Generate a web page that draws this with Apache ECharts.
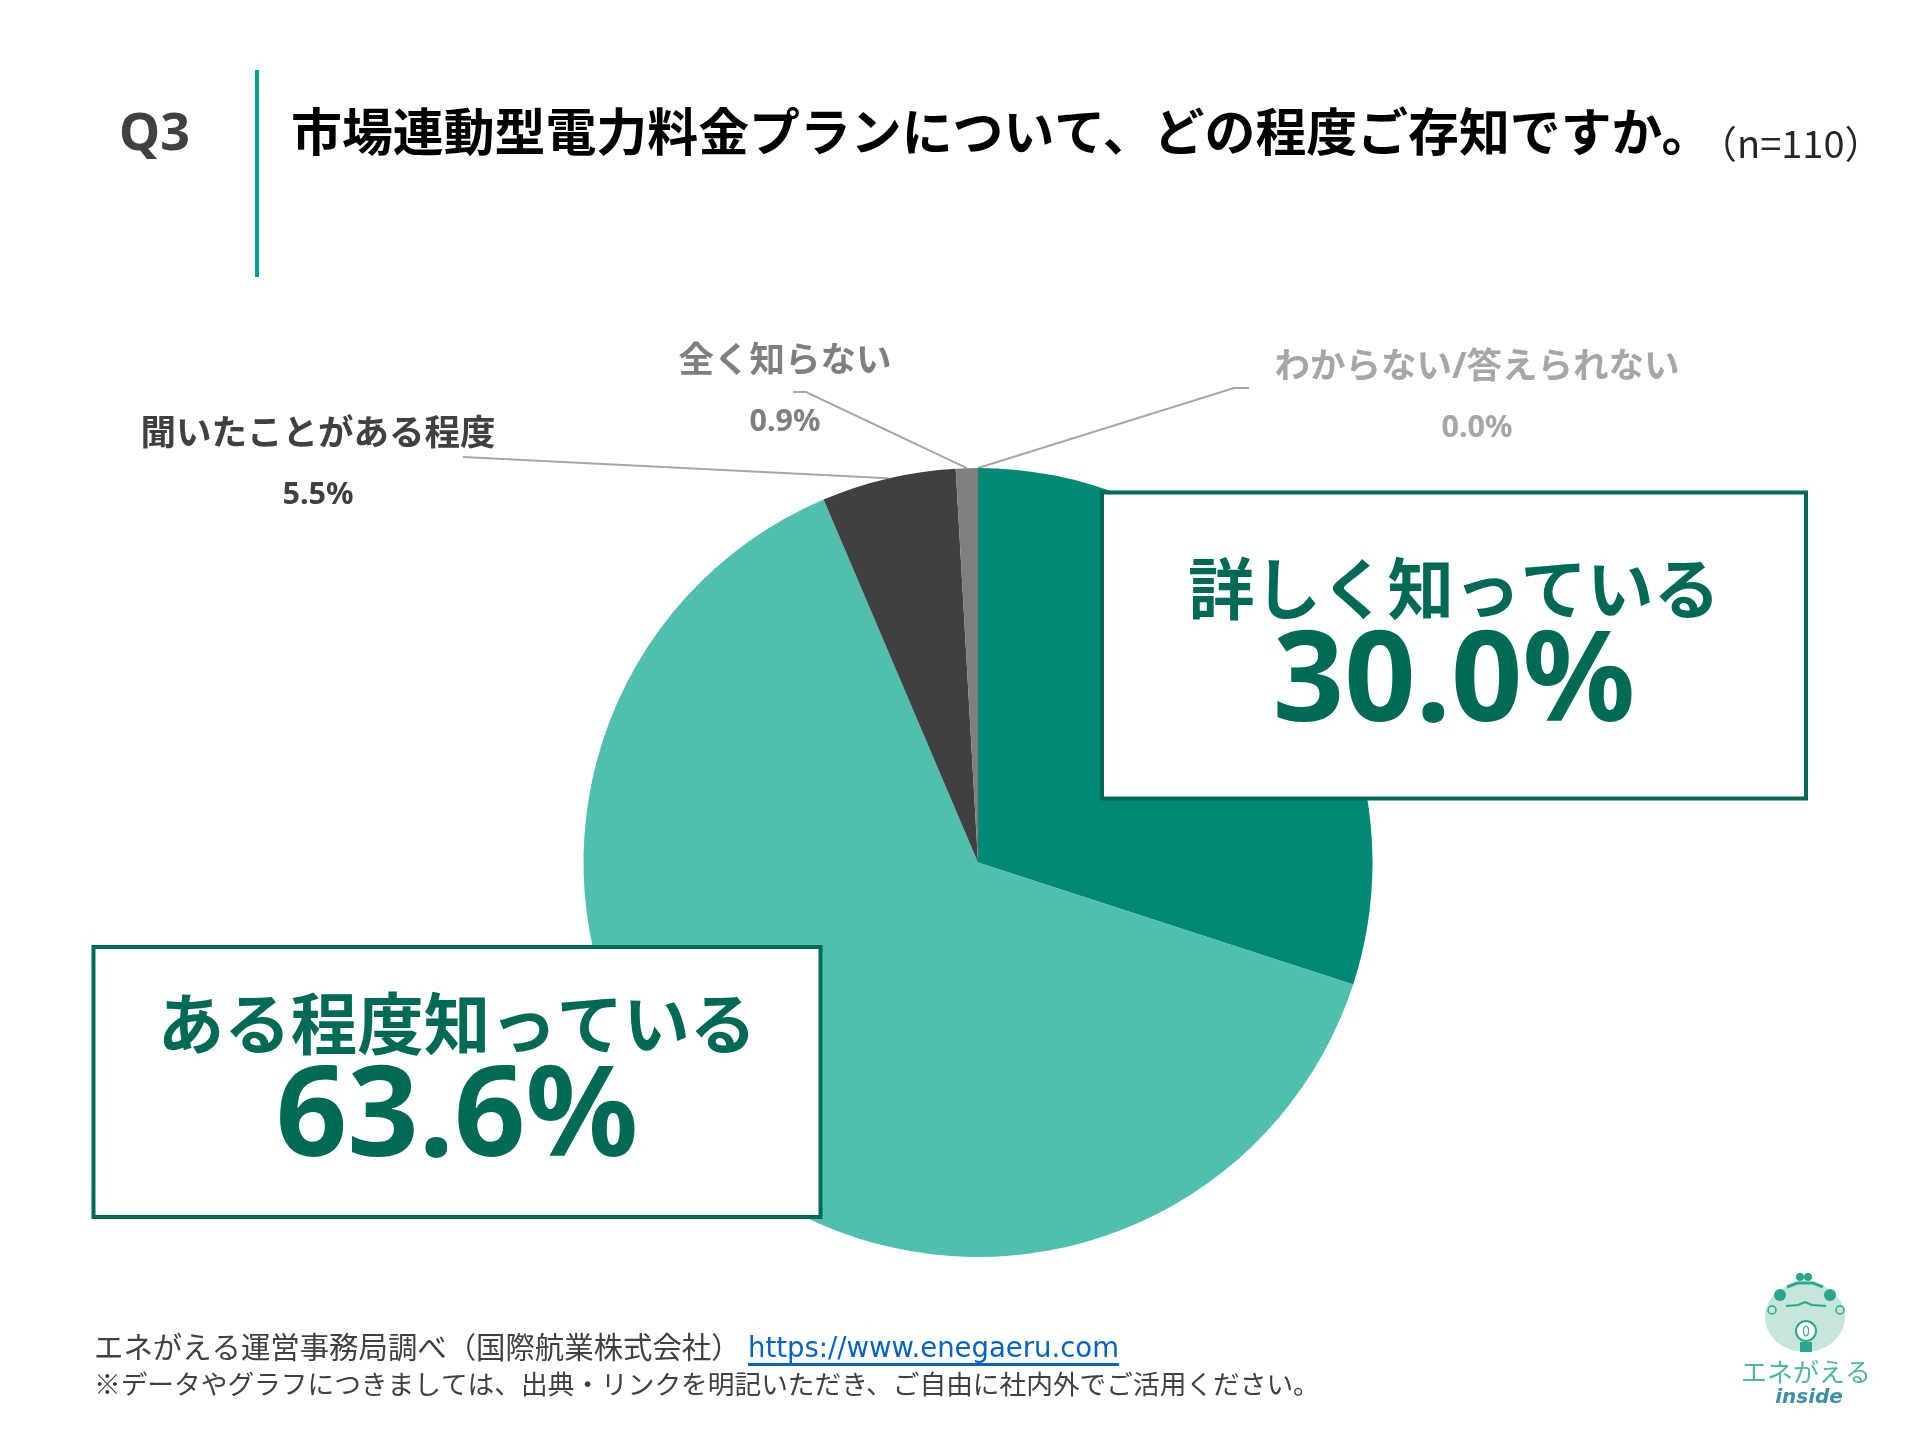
<!DOCTYPE html>
<html>
<head>
<meta charset="utf-8">
<title>Q3</title>
<script src="https://cdn.jsdelivr.net/npm/echarts@6/dist/echarts.min.js"></script>
<style>
html,body{margin:0;padding:0;background:#fff}
#chart{width:1920px;height:1440px}
</style>
</head>
<body>
<div id="chart"></div>
<script>
var categories = ['詳しく知っている', 'ある程度知っている', '聞いたことがある程度', '全く知らない', 'わからない/答えられない'];
var shares = [30.0, 63.6, 5.5, 0.9, 0.0];
var sliceColors = ['#008a75', '#50bfae', '#404040', '#7f7f7f', '#a6a6a6'];
var questionNo = 'Q3';
var questionText = '市場連動型電力料金プランについて、どの程度ご存知ですか。';
var sampleText = '（n=110）';
var sourceText = 'エネがえる運営事務局調べ（国際航業株式会社）';
var sourceUrl = 'https://www.enegaeru.com';
var noteText = '※データやグラフにつきましては、出典・リンクを明記いただき、ご自由に社内外でご活用ください。';

var font = '"Noto Sans", "Noto Sans CJK JP", sans-serif';
var jpFont = '"Noto Sans CJK JP", sans-serif';
var dark = '#006a57';
var logoGreen = '#2aa58e';
var chart = echarts.init(document.getElementById('chart'));

// where each label sits, same order as categories (the two big boxes by their top edge)
var spots = [
    {x: 1454, y: 494.5, top: true},
    {x: 457, y: 949, top: true},
    {x: 318, y: 465, line: [[463, 457]]},
    {x: 785, y: 392, line: [[806, 392], [793, 392]]},
    {x: 1477, y: 398, line: [[1234, 388], [1249, 388]]}
];

function smallLabel(color) {
    return {
        formatter: function (p) {
            return '{n|' + p.name + '}\n{p|' + p.value.toFixed(1) + '%}';
        },
        rich: {
            n: {fontFamily: font, fontSize: 35.5, fontWeight: 'bold', color: color, lineHeight: 61, align: 'center'},
            p: {fontFamily: font, fontSize: 30.5, fontWeight: 'bold', color: color, lineHeight: 61, align: 'center'}
        }
    };
}

function boxLabel(w, h, topGap) {
    return {
        width: w,
        height: h,
        padding: [topGap, 0, 0, 0],
        backgroundColor: '#fff',
        borderColor: dark,
        borderWidth: 4,
        formatter: function (p) {
            return '{n|' + p.name + '}\n{p|' + p.value.toFixed(1) + '%}';
        },
        rich: {
            n: {fontFamily: font, fontSize: 66.5, fontWeight: 'bold', color: dark, lineHeight: 90, align: 'center'},
            p: {fontFamily: font, fontSize: 125, fontWeight: 'bold', color: dark, lineHeight: 90, align: 'center'}
        }
    };
}

var labels = [
    boxLabel(700, 246.5, 55.5),
    boxLabel(723, 229.5, 36.5),
    smallLabel('#404040'),
    smallLabel('#7f7f7f'),
    smallLabel('#a6a6a6')
];

var pieData = categories.map(function (name, i) {
    return {
        name: name,
        value: shares[i],
        itemStyle: {color: sliceColors[i]},
        label: labels[i],
        labelLine: {show: i > 1, lineStyle: {color: '#a6a6a6', width: 2}}
    };
});

function headText(text, left, top, size, weight, color, family) {
    return {
        text: text,
        left: left,
        top: top,
        padding: 0,
        textStyle: {fontFamily: family || font, fontSize: size, fontWeight: weight, color: color}
    };
}

var option = {
    animation: false,
    backgroundColor: '#fff',
    title: [
        headText(questionNo, 119, 109, 52, 'bold', '#404040'),
        headText(questionText, 291, 106, 50.9, 'bold', '#000', jpFont),
        headText(sampleText, 1699, 125, 38, 'normal', '#262626', jpFont),
        headText(sourceText, 94, 1332, 29.4, 'normal', '#404040', jpFont),
        headText(sourceUrl, 748, 1336, 27.5, 'normal', '#0563c1', 'DejaVu Sans'),
        headText(noteText, 94, 1371, 26.7, 'normal', '#404040', jpFont)
    ],
    series: [{
        type: 'pie',
        center: [978, 862.5],
        radius: 394.5,
        startAngle: 90,
        clockwise: true,
        stillShowZeroSum: true,
        minAngle: 0,
        avoidLabelOverlap: false,
        label: {show: true},
        labelLine: {show: true, length: 20, length2: 20},
        emphasis: {disabled: true},
        data: pieData,
        labelLayout: function (params) {
            var s = spots[params.dataIndex];
            var out = {x: s.x, y: s.y, align: 'center', verticalAlign: s.top ? 'top' : 'middle'};
            if (s.line && params.labelLinePoints) {
                out.labelLinePoints = [params.labelLinePoints[0]].concat(s.line);
            }
            return out;
        }
    }],
    graphic: {
        elements: [
            // rule next to the question number
            {type: 'rect', shape: {x: 255, y: 70, width: 4, height: 207}, style: {fill: '#00a08a'}},
            // underline of the link
            {type: 'rect', shape: {x: 748, y: 1363, width: 371, height: 3}, style: {fill: '#0563c1'}},
            // logo
            {type: 'group', children: [
                {type: 'ellipse', shape: {cx: 1805, cy: 1317, rx: 40, ry: 35}, style: {fill: '#c6e6da'}},
                {type: 'polyline', shape: {points: [[1787, 1287], [1797, 1283], [1813, 1283], [1823, 1287]]}, style: {stroke: logoGreen, lineWidth: 3, fill: 'none'}},
                {type: 'circle', shape: {cx: 1800, cy: 1277, r: 4}, style: {fill: logoGreen}},
                {type: 'circle', shape: {cx: 1808, cy: 1277, r: 4}, style: {fill: logoGreen}},
                {type: 'circle', shape: {cx: 1780, cy: 1295, r: 6}, style: {fill: logoGreen}},
                {type: 'circle', shape: {cx: 1830, cy: 1295, r: 6}, style: {fill: logoGreen}},
                {type: 'polyline', shape: {points: [[1786, 1306], [1798, 1305], [1805, 1302], [1812, 1305], [1826, 1306]]}, style: {stroke: logoGreen, lineWidth: 2, fill: 'none'}},
                {type: 'circle', shape: {cx: 1772, cy: 1310, r: 4}, style: {fill: 'none', stroke: logoGreen, lineWidth: 1.5}},
                {type: 'circle', shape: {cx: 1840, cy: 1310, r: 4}, style: {fill: 'none', stroke: logoGreen, lineWidth: 1.5}},
                {type: 'circle', shape: {cx: 1806, cy: 1331, r: 10}, style: {fill: '#fff', stroke: logoGreen, lineWidth: 2}},
                {type: 'ellipse', shape: {cx: 1806, cy: 1331, rx: 2.5, ry: 5}, style: {fill: 'none', stroke: logoGreen, lineWidth: 1.2}},
                {type: 'rect', shape: {x: 1800, y: 1342, width: 12, height: 10}, style: {fill: logoGreen}},
                {type: 'text', style: {text: 'エネがえる', x: 1806, y: 1372, align: 'center', verticalAlign: 'middle', font: '26px ' + jpFont, fill: '#4fb8a3'}},
                {type: 'text', style: {text: 'inside', x: 1809, y: 1398, align: 'center', verticalAlign: 'middle', font: 'italic bold 20px "DejaVu Sans"', fill: '#3a90a8'}}
            ]}
        ]
    }
};
chart.setOption(option);
</script>
</body>
</html>
